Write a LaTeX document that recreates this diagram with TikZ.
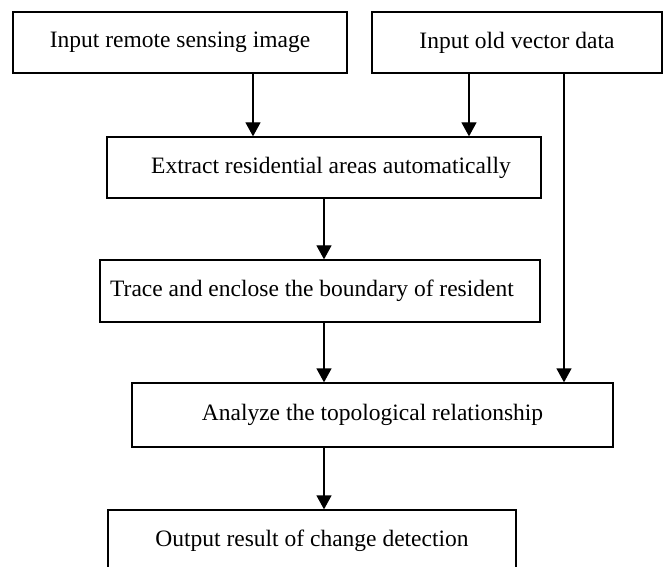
\documentclass[tikz,border=0pt]{standalone}
\usepackage{fontspec}
\setmainfont{Liberation Serif}
\usepackage{tikz}
\usetikzlibrary{arrows.meta}

\tikzset{
	stage/.style={draw, line width=1.3pt, inner sep=0pt, minimum height=61pt,
		font=\fontsize{23.5}{26}\selectfont},
	flow/.style={line width=1.3pt, -{Triangle[width=15pt,length=14pt]}},
}

\begin{document}
\begin{tikzpicture}[x=1pt,y=-1pt]
		\useasboundingbox (0,0) rectangle (665,567);
		% boxes
		\node[stage, minimum width=334pt] (img) at (180,42.5) {Input remote sensing image};
		\node[stage, minimum width=290pt] (vec) at (517,42.5) {Input old vector data};
		\node[stage, minimum width=434pt] (ext) at (324,167.5) {\hspace*{14pt}Extract residential areas automatically};
		\node[stage, minimum width=440pt, minimum height=62pt] (trc) at (320,291) {Trace and enclose the boundary of resident\hspace*{16pt}};
		\node[stage, minimum width=481pt, minimum height=64pt] (ana) at (372.5,415) {Analyze the topological relationship};
		\node[stage, minimum width=408pt] (out) at (312,540.5) {Output result of change detection};
		\coordinate (c1) at (253,0);
		\coordinate (c2) at (469,0);
		\coordinate (c3) at (564,0);
		% connectors
		\draw[flow] (c1 |- img.south) -- (c1 |- ext.north);
		\draw[flow] (c2 |- vec.south) -- (c2 |- ext.north);
		\draw[flow] (ext.south) -- (ext.south |- trc.north);
		\draw[flow] (ext.south |- trc.south) -- (ext.south |- ana.north);
		\draw[flow] (c3 |- vec.south) -- (c3 |- ana.north);
		\draw[flow] (ext.south |- ana.south) -- (ext.south |- out.north);
	\end{tikzpicture}
\end{document}
